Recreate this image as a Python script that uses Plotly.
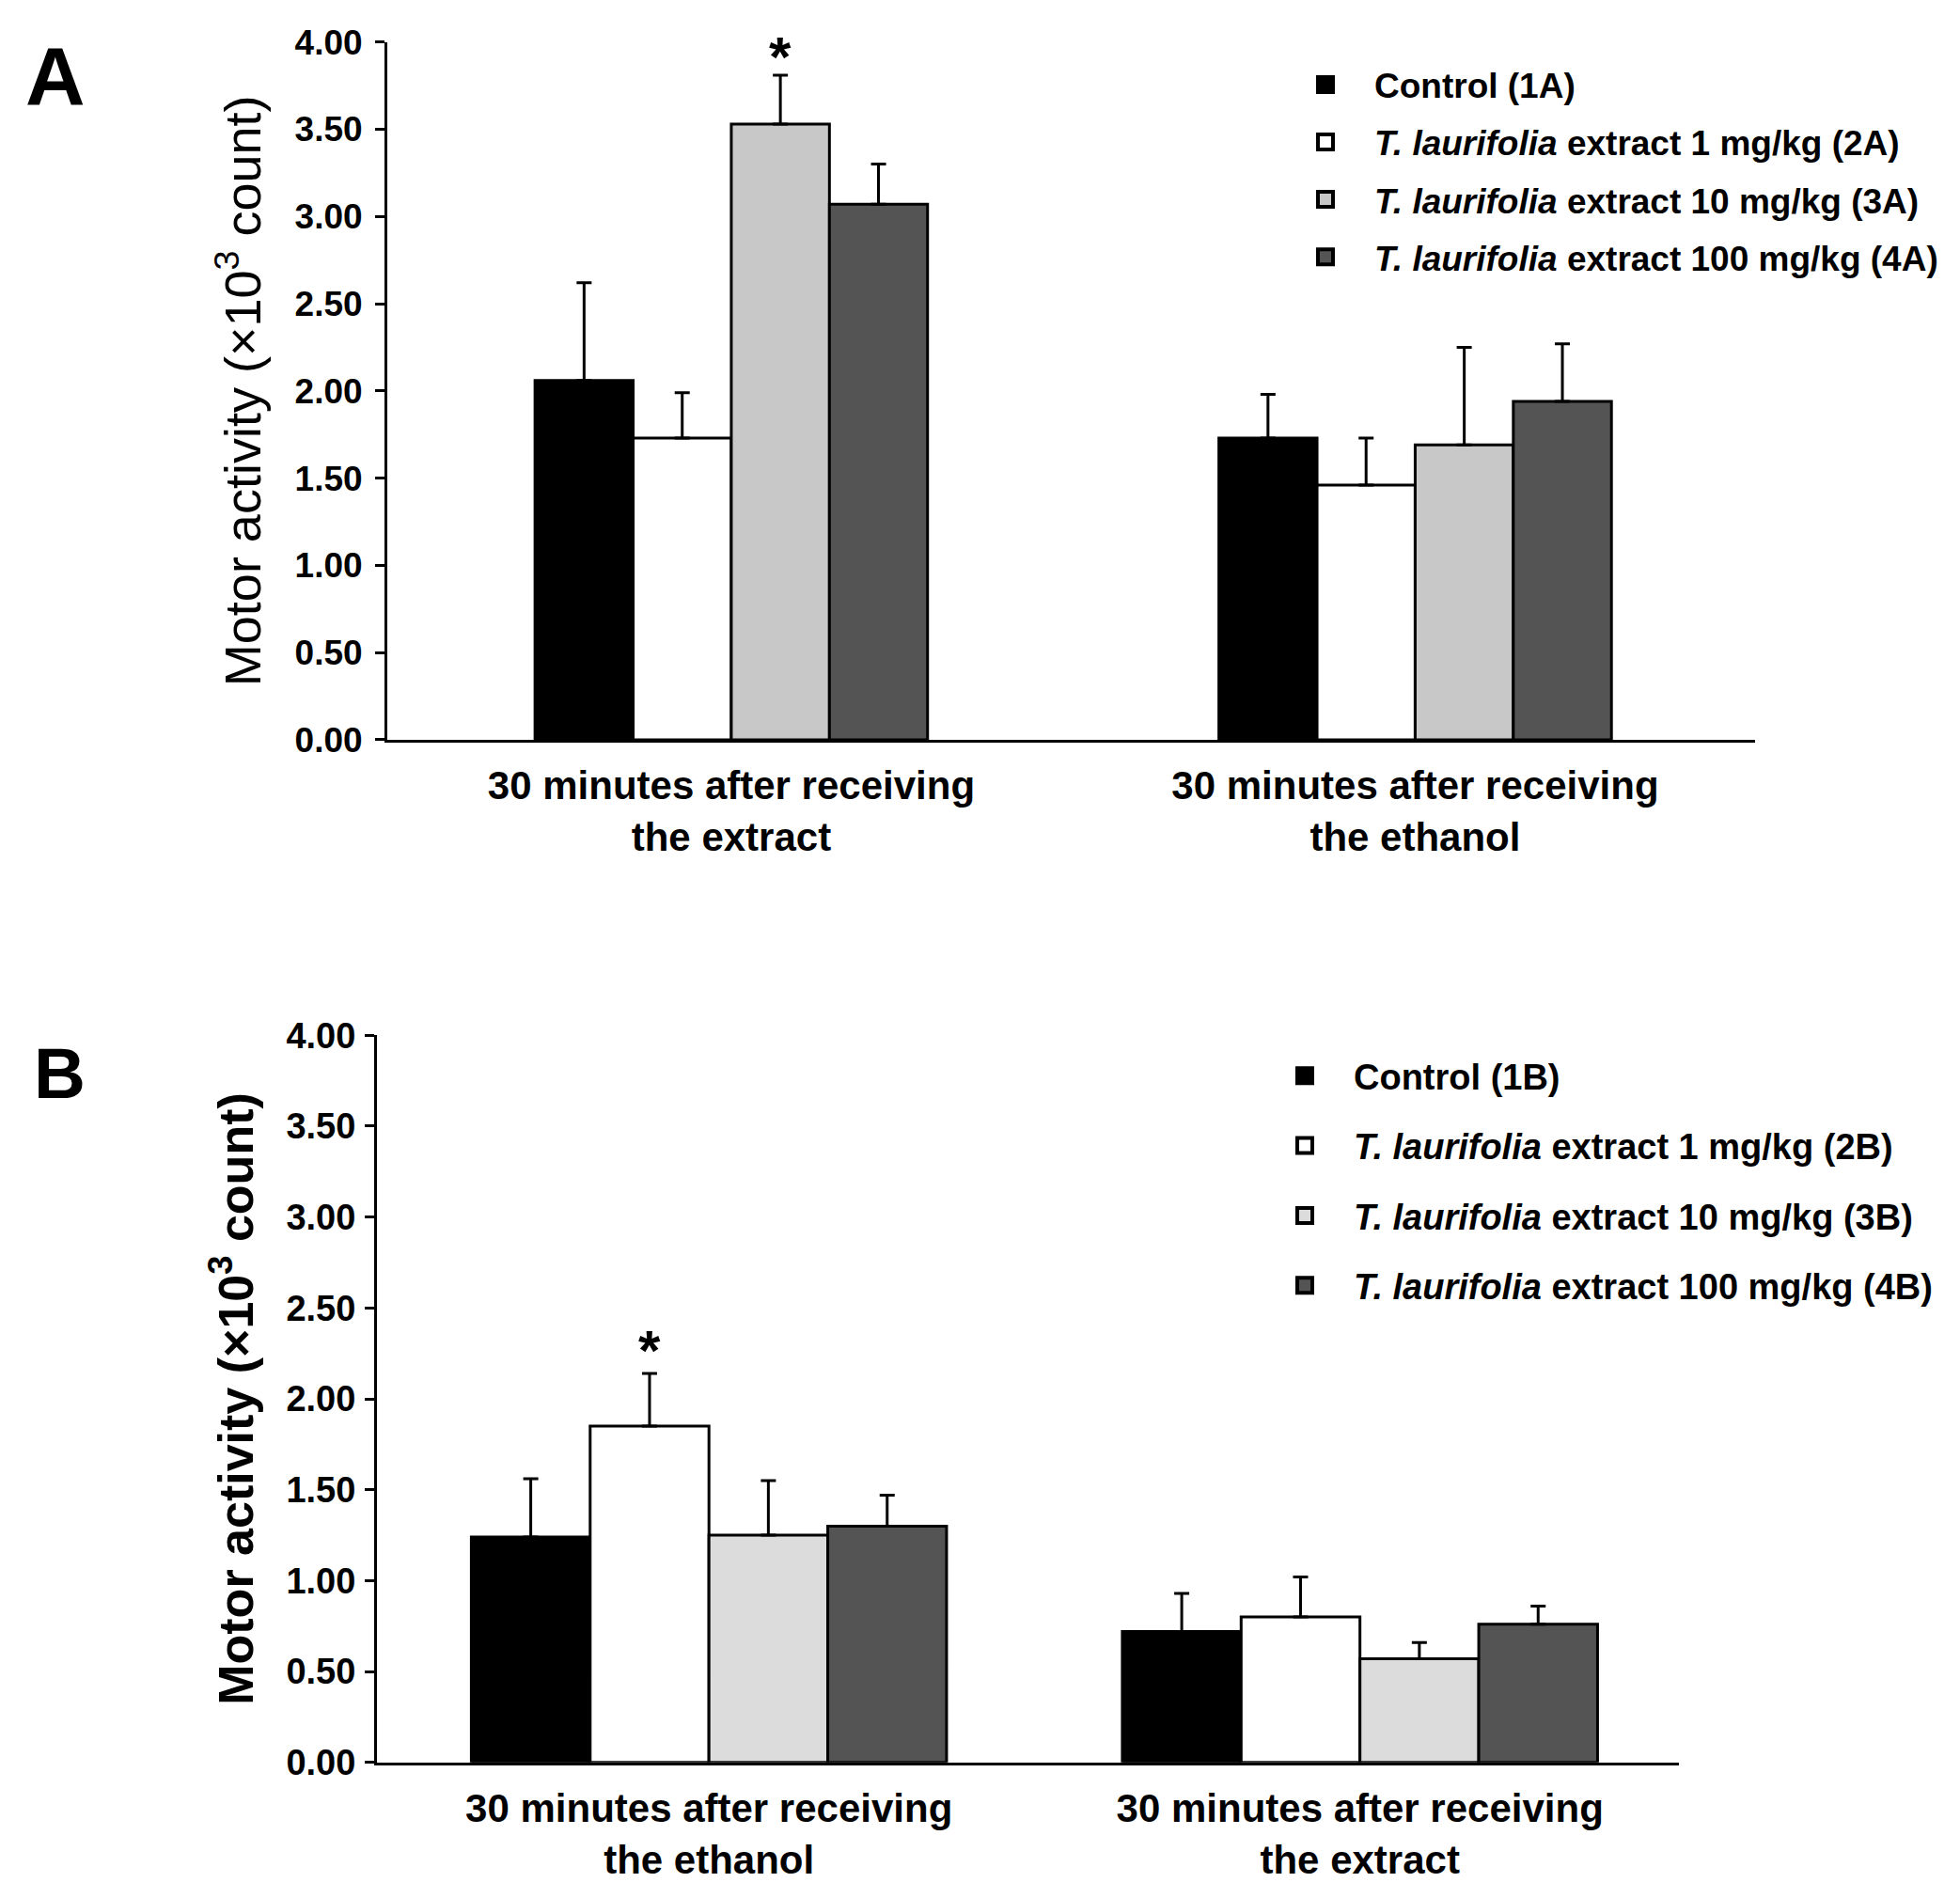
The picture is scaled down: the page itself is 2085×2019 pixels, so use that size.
import plotly.graph_objects as go

# categories of the two panels
groups_a = ["30 minutes after receiving<br>the extract", "30 minutes after receiving<br>the ethanol"]
groups_b = ["30 minutes after receiving<br>the ethanol", "30 minutes after receiving<br>the extract"]

names_a = ["Control (1A)",
           "<i>T. laurifolia</i> extract 1 mg/kg (2A)",
           "<i>T. laurifolia</i> extract 10 mg/kg (3A)",
           "<i>T. laurifolia</i> extract 100 mg/kg (4A)"]
names_b = ["Control (1B)",
           "<i>T. laurifolia</i> extract 1 mg/kg (2B)",
           "<i>T. laurifolia</i> extract 10 mg/kg (3B)",
           "<i>T. laurifolia</i> extract 100 mg/kg (4B)"]

# mean motor activity (x10^3 count), one list per dose, one value per group
a_control = [2.06, 1.73]
a_1mg = [1.73, 1.46]
a_10mg = [3.53, 1.69]
a_100mg = [3.07, 1.94]
# upper end of the error bars
a_control_top = [2.62, 1.98]
a_1mg_top = [1.99, 1.73]
a_10mg_top = [3.81, 2.25]
a_100mg_top = [3.30, 2.27]

b_control = [1.24, 0.72]
b_1mg = [1.85, 0.80]
b_10mg = [1.25, 0.57]
b_100mg = [1.30, 0.76]
b_control_top = [1.56, 0.93]
b_1mg_top = [2.14, 1.02]
b_10mg_top = [1.55, 0.66]
b_100mg_top = [1.47, 0.86]

y_ticks = [0, 0.5, 1, 1.5, 2, 2.5, 3, 3.5, 4]

colors_a = ["#000000", "#ffffff", "#c8c8c8", "#545454"]
colors_b = ["#000000", "#ffffff", "#dcdcdc", "#545454"]

FONT = "Liberation Sans, Arial, sans-serif"
W, H = 2085, 2019


def bar_slots(gap, n=4):
    w = (1 - gap) / n
    return w, [-(1 - gap) / 2 + i * w for i in range(n)]


fig = go.Figure()


def add_panel(groups, means, tops, names, colors, gap, xa, ya, legend):
    w, offs = bar_slots(gap)
    for i in range(4):
        fig.add_trace(go.Bar(
            x=groups, y=means[i], width=w, offset=offs[i],
            marker=dict(color=colors[i], line=dict(color="black", width=3)),
            error_y=dict(type="data", symmetric=False,
                         array=[t - m for t, m in zip(tops[i], means[i])],
                         arrayminus=[0] * len(means[i]),
                         color="black", thickness=3, width=8),
            showlegend=False, xaxis=xa, yaxis=ya, hoverinfo="skip"))
    # legend proxies (bigger squares than the bar icons)
    for i in range(4):
        fig.add_trace(go.Scatter(
            x=[None], y=[None], mode="markers", name=names[i],
            marker=dict(symbol="square", size=16, color=colors[i],
                        line=dict(color="black", width=4)),
            legend=legend, legendgroup=f"{legend}{i}",
            xaxis=xa, yaxis=ya))
    return w, offs


wa, offs_a = add_panel(groups_a, [a_control, a_1mg, a_10mg, a_100mg],
                       [a_control_top, a_1mg_top, a_10mg_top, a_100mg_top],
                       names_a, colors_a, 0.426, "x", "y", "legend")
wb, offs_b = add_panel(groups_b, [b_control, b_1mg, b_10mg, b_100mg],
                       [b_control_top, b_1mg_top, b_10mg_top, b_100mg_top],
                       names_b, colors_b, 0.27, "x2", "y2", "legend2")

# significance stars
fig.add_annotation(x=0 + offs_a[2] + wa / 2, y=a_10mg_top[0], xref="x", yref="y",
                   text="*", showarrow=False, yanchor="middle", yshift=19,
                   font=dict(family=FONT, size=60, color="black", weight="bold"))
fig.add_annotation(x=0 + offs_b[1] + wb / 2, y=b_1mg_top[0], xref="x2", yref="y2",
                   text="*", showarrow=False, yanchor="middle", yshift=24,
                   font=dict(family=FONT, size=60, color="black", weight="bold"))

# panel letters
fig.add_annotation(x=51 / W, y=1 - 53 / H, xref="paper", yref="paper", text="A",
                   showarrow=False, xanchor="center", yanchor="middle",
                   font=dict(family=FONT, size=88, color="black", weight="bold"))
fig.add_annotation(x=55 / W, y=1 - 1136 / H, xref="paper", yref="paper", text="B",
                   showarrow=False, xanchor="center", yanchor="middle",
                   font=dict(family=FONT, size=76, color="black", weight="bold"))


def y_axis(domain, anchor, tick_size, standoff, title_size, title_weight, title_standoff):
    return dict(domain=domain, anchor=anchor, range=[0, 4], tickvals=y_ticks,
                tickformat=".2f", showline=True, linecolor="black", linewidth=3,
                ticks="outside", ticklen=10, tickwidth=3, tickcolor="black",
                showgrid=False, zeroline=False, ticklabelstandoff=standoff,
                tickfont=dict(family=FONT, size=tick_size, color="black", weight="bold"),
                title=dict(text="Motor activity (\u00d710<sup>3</sup> count)",
                           standoff=title_standoff,
                           font=dict(family=FONT, size=title_size, color="black",
                                     weight=title_weight)))


def x_axis(domain, anchor, xrange):
    return dict(domain=domain, anchor=anchor, type="category", range=xrange,
                showline=True, linecolor="black", linewidth=3, ticks="",
                showgrid=False, zeroline=False, ticklabelstandoff=10,
                tickfont=dict(family=FONT, size=42, color="black", weight="bold"))


fig.update_layout(
    width=W, height=H, margin=dict(l=0, r=0, t=0, b=0),
    paper_bgcolor="white", plot_bgcolor="white", barmode="overlay",
    xaxis=x_axis([404 / W, 1859 / W], "y", [-0.503, 1.497]),
    yaxis=y_axis([1 - 774 / H, 1 - 16 / H], "x", 37, 6, 54, "normal", 19),
    xaxis2=x_axis([393 / W, 1778 / W], "y2", [-0.51, 1.49]),
    yaxis2=y_axis([1 - 1885 / H, 1 - 1095 / H], "x2", 38, 2, 52, "bold", 19),
    legend=dict(x=1350 / W, y=1 - 31 / H, xanchor="left", yanchor="top",
                itemwidth=94, traceorder="grouped", tracegroupgap=10,
                bgcolor="rgba(0,0,0,0)",
                font=dict(family=FONT, size=37, color="black", weight="bold")),
    legend2=dict(x=1328 / W, y=1 - 1107 / H, xanchor="left", yanchor="top",
                 itemwidth=94, traceorder="grouped", tracegroupgap=22,
                 bgcolor="rgba(0,0,0,0)",
                 font=dict(family=FONT, size=38, color="black", weight="bold")),
)

fig.write_html("out.html")
